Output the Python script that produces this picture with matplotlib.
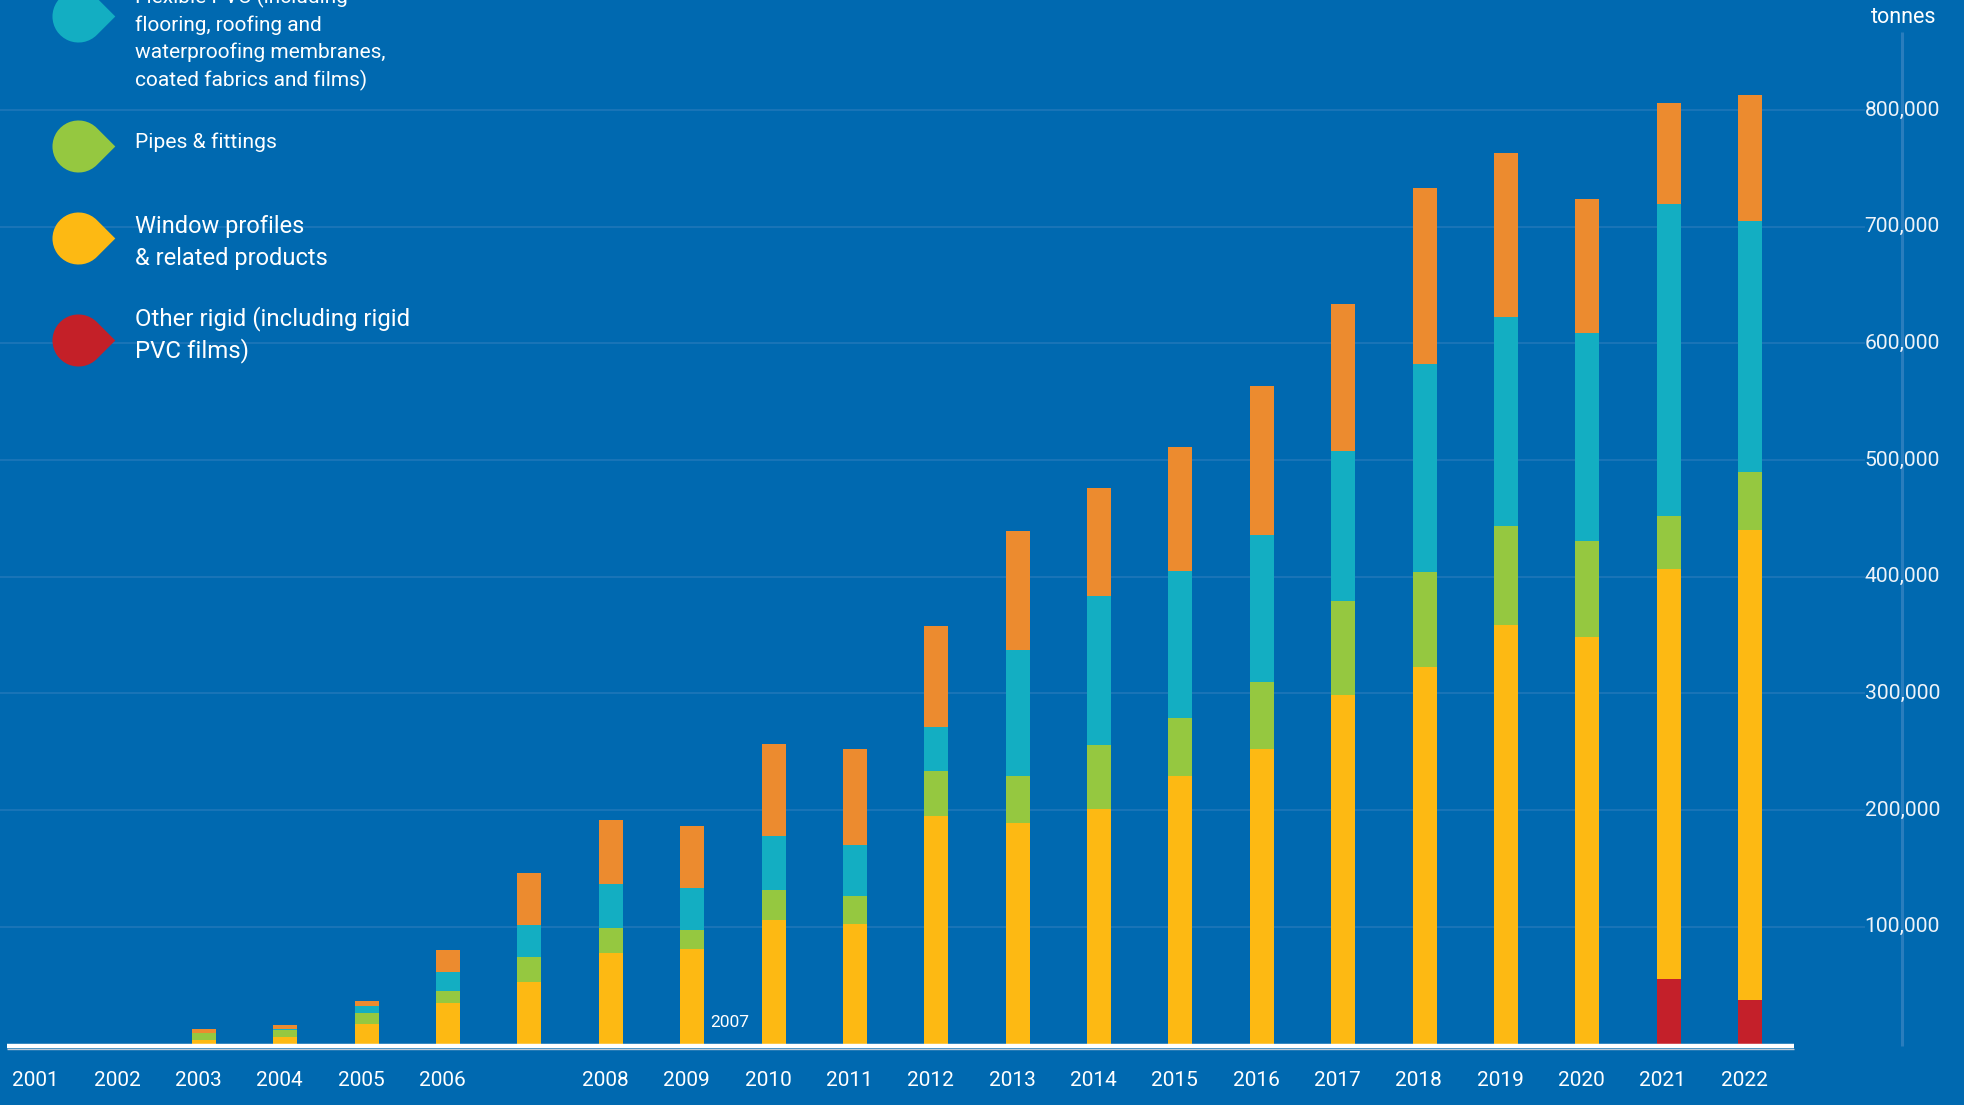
import numpy as np
import matplotlib
matplotlib.use("Agg")
import matplotlib.pyplot as plt
from matplotlib.path import Path

plt.rcParams["font.family"] = ["Roboto", "DejaVu Sans"]

# recycled PVC by sector, thousand tonnes
years = list(range(2001, 2023))
other_rigid = [0, 0, 0, 0, 0, 0, 0, 0, 0, 0, 0, 0, 0, 0, 0, 0, 0, 0, 0, 0, 55.5, 37.3]
window = [0, 0, 3.0, 5.6, 16.7, 34.7, 52.7, 77.5, 81.0, 105.8, 102.4, 195.0, 189.0,
          201.0, 229.2, 252.3, 298.6, 322.6, 358.6, 348.3, 351.3, 402.7]
pipes = [0, 0, 6.0, 6.0, 9.4, 10.3, 21.4, 21.5, 16.3, 25.7, 24.0, 38.5, 40.2,
         54.8, 49.8, 57.5, 80.6, 81.4, 84.8, 82.3, 45.2, 49.8]
flexible = [0, 0, 0, 0.8, 6.3, 16.3, 27.4, 37.7, 36.2, 46.3, 43.6, 37.3, 108.3,
            127.7, 125.9, 125.9, 128.8, 178.3, 178.9, 178.2, 267.6, 215.0]
cables = [0, 0, 3.4, 3.5, 4.0, 18.8, 44.6, 54.8, 52.9, 78.8, 82.3, 87.0, 101.7,
          92.1, 106.1, 127.3, 125.7, 150.8, 140.9, 115.0, 86.3, 108.0]

y_ticks = [100000, 200000, 300000, 400000, 500000, 600000, 700000, 800000]
year_labels = [str(y) for y in years]

legend_items = [
    (["Flexible PVC (including", "flooring, roofing and",
      "waterproofing membranes,", "coated fabrics and films)"], "#13aec2"),
    (["Pipes & fittings"], "#95c840"),
    (["Window profiles", "& related products"], "#fdb913"),
    (["Other rigid (including rigid", "PVC films)"], "#c42028"),
]

BG = "#0069b0"
GRID = "#1c76b8"
colors = {"other": "#c4202a", "window": "#fdb913", "pipes": "#95c840",
          "flexible": "#13aec2", "cables": "#ec8b2f"}

fig = plt.figure(figsize=(19.64, 11.05), dpi=100)
fig.patch.set_facecolor(BG)
ax = fig.add_axes([0, 0, 1, 1])
ax.set_facecolor(BG)
ax.set_xlim(2000.493, 2024.63)
ax.set_ylim(-52700, 894200)
ax.axis("off")

# grid
ax.hlines(y_ticks, 2000.49, 2023.41, color=GRID, lw=1.3, zorder=0)
ax.vlines(2023.87, -2000, 866700, color="#2a7dbd", lw=2.2, zorder=0)

# stacked bars
bottom = np.zeros(len(years))
for key, vals in [("other", other_rigid), ("window", window), ("pipes", pipes),
                  ("flexible", flexible), ("cables", cables)]:
    v = np.array(vals) * 1000
    ax.bar(years, v, width=0.295, bottom=bottom, color=colors[key], zorder=2)
    bottom += v

# baseline
ax.plot([2000.58, 2022.54], [-2150, -2150], color="white", lw=3.2,
        solid_capstyle="butt", zorder=4)
ax.plot([2000.58, 2022.54], [-4750, -4750], color="#b9c9d8", lw=1.0,
        solid_capstyle="butt", zorder=4)

# y labels on the right
for t in y_ticks:
    ax.text(2023.41, t, f"{t:,}", color="#eef3f9", fontsize=15.2, ha="left",
            va="center")
ax.text(2023.89, 879600, "tonnes", color="white", fontsize=15.5, ha="center",
        va="center")

# x labels (2007 is misplaced in the original)
for y, lab in zip(years, year_labels):
    if lab == "2007":
        continue
    ax.text(y - 0.07, -31300, lab, color="white", fontsize=15, ha="center",
            va="center")
ax.text(2009.46, 17600, "2007", color="white", fontsize=12.5, ha="center",
        va="center")

# legend with drop markers
arc = Path.arc(45, 315)
drop = Path(np.concatenate([arc.vertices, [[np.sqrt(2), 0], arc.vertices[0]]]),
            list(arc.codes) + [Path.LINETO, Path.CLOSEPOLY])

W, H = 1964, 1105
drop_y = [16, 146, 238, 340]
text_top = [-2.5, 142, 227, 319]
steps = [27.5, 0, 31, 32]
sizes = [15, 15.2, 17, 17.3]
for (lines, col), dy, ty, st, fs in zip(legend_items, drop_y, text_top, steps, sizes):
    ax.plot(78 / W, 1 - dy / H, marker=drop, markersize=53, color=col,
            markeredgewidth=0, linestyle="none", transform=ax.transAxes,
            clip_on=False, zorder=5)
    for i, line in enumerate(lines):
        ax.text(135 / W, 1 - (ty + i * st) / H, line, color="white",
                fontsize=fs, ha="left", va="center", transform=ax.transAxes)

fig.savefig("out.png", dpi=100, facecolor=BG)
